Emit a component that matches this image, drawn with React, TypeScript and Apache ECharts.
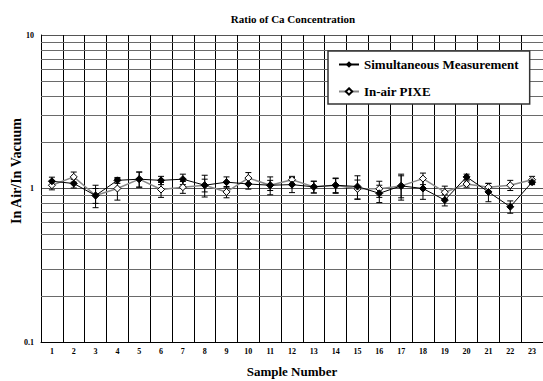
import React, { useEffect, useRef } from "react";
import * as echarts from "echarts";

const categories = ["1","2","3","4","5","6","7","8","9","10","11","12","13","14","15","16","17","18","19","20","21","22","23"];
const simultaneous = [1.115, 1.078, 0.9, 1.13, 1.15, 1.13, 1.15, 1.05, 1.1, 1.07, 1.05, 1.06, 1.025, 1.05, 1.03, 0.93, 1.04, 1.0, 0.84, 1.19, 0.95, 0.76, 1.1];
const inAirPixe = [1.05, 1.19, 0.9, 1.0, 1.15, 0.985, 1.02, 1.05, 0.95, 1.17, 1.05, 1.14, 1.025, 1.05, 0.995, 0.995, 1.04, 1.16, 0.946, 1.07, 1.02, 1.05, 1.14];
const simultaneousErr = [0.07, 0.07, 0.1, 0.05, 0.13, 0.07, 0.09, 0.1, 0.09, 0.08, 0.08, 0.12, 0.09, 0.12, 0.18, 0.12, 0.2, 0.15, 0.07, 0.05, 0.13, 0.07, 0.04];
const inAirPixeErr = [0.07, 0.09, 0.15, 0.16, 0.13, 0.11, 0.09, 0.17, 0.08, 0.1, 0.14, 0.06, 0.09, 0.11, 0.14, 0.12, 0.17, 0.1, 0.09, 0.05, 0.06, 0.08, 0.06];
const minorGridValues = [0.2, 0.3, 0.4, 0.5, 0.6, 0.7, 0.8, 0.9, 2, 3, 4, 5, 6, 7, 8, 9];

const FONT = "Liberation Serif";

function errData(vals: number[], errs: number[]) {
  return vals.map((v, i) => [i, v - errs[i], v + errs[i]]);
}

const renderErr = (params: any, api: any) => {
  const x = api.value(0);
  const lo = api.coord([x, api.value(1)]);
  const hi = api.coord([x, api.value(2)]);
  const w = 3;
  const style = { stroke: "#000", lineWidth: 1 };
  return {
    type: "group",
    children: [
      { type: "line", shape: { x1: lo[0], y1: lo[1], x2: hi[0], y2: hi[1] }, style },
      { type: "line", shape: { x1: lo[0] - w, y1: lo[1], x2: lo[0] + w, y2: lo[1] }, style },
      { type: "line", shape: { x1: hi[0] - w, y1: hi[1], x2: hi[0] + w, y2: hi[1] }, style },
    ],
  };
};

export default function App() {
  const ref = useRef<HTMLDivElement>(null);
  useEffect(() => {
    const chart = echarts.init(ref.current!, null, { renderer: "svg" });
    chart.setOption({
      animation: false,
      backgroundColor: "#fff",
      textStyle: { fontFamily: FONT },
      title: {
        text: "Ratio of Ca Concentration",
        left: 288,
        textAlign: "center",
        top: 8,
        textStyle: { fontFamily: FONT, fontSize: 11, fontWeight: "bold", color: "#000" },
      },
      graphic: [
        {
          type: "text",
          x: 16.5,
          y: 171,
          rotation: Math.PI / 2,
          style: {
            text: "In Air/In Vacuum",
            fontFamily: FONT,
            fontSize: 14,
            fontWeight: "bold",
            fill: "#000",
            textAlign: "center",
            textVerticalAlign: "middle",
          },
        },
      ],
      legend: {
        left: 328,
        top: 51,
        orient: "vertical",
        backgroundColor: "#fff",
        borderColor: "#333",
        borderWidth: 1.5,
        padding: [7, 11, 6, 10],
        itemGap: 14,
        itemWidth: 20,
        itemHeight: 8,
        textStyle: { fontFamily: FONT, fontSize: 13, fontWeight: "bold", color: "#000" },
        data: ["Simultaneous Measurement", "In-air PIXE"],
      },
      grid: { left: 41, right: 0, top: 35, bottom: 39, outerBoundsMode: "none" },
      xAxis: {
        type: "category",
        data: categories,
        boundaryGap: true,
        name: "Sample Number",
        nameLocation: "middle",
        nameGap: 23,
        nameTextStyle: { fontFamily: FONT, fontSize: 13, fontWeight: "bold", color: "#000" },
        axisLine: { lineStyle: { color: "#000", width: 1 } },
        axisTick: { show: false },
        axisLabel: { interval: 0, margin: 5, fontFamily: FONT, fontSize: 8, fontWeight: "bold", color: "#000" },
        splitLine: { show: true, interval: 0, lineStyle: { color: "#000", width: 1 } },
      },
      yAxis: {
        type: "log",
        logBase: 10,
        min: 0.1,
        max: 10,
        axisLine: { show: true, lineStyle: { color: "#000", width: 1 } },
        axisTick: { show: false },
        axisLabel: {
          margin: 7,
          fontFamily: FONT,
          fontSize: 8,
          fontWeight: "bold",
          color: "#000",
          formatter: (v: number) => (v < 1 ? "0.1" : String(Math.round(v))),
        },
        splitLine: { show: true, lineStyle: { color: "#555", width: 1 } },
      },
      series: [
        {
          name: "In-air PIXE",
          type: "line",
          data: inAirPixe,
          symbol: "diamond",
          symbolSize: 7,
          itemStyle: { color: "#fff", borderColor: "#000", borderWidth: 1 },
          lineStyle: { color: "#888", width: 1.5 },
          z: 3,
          markLine: {
            silent: true,
            symbol: "none",
            label: { show: false },
            lineStyle: { color: "#6a6a6a", width: 1, type: "solid" },
            data: minorGridValues.map((v) => ({ yAxis: v })),
            z: 1,
          },
        },
        {
          name: "Simultaneous Measurement",
          type: "line",
          data: simultaneous,
          symbol: "diamond",
          symbolSize: 7,
          itemStyle: { color: "#000", borderColor: "#000" },
          lineStyle: { color: "#000", width: 1 },
          z: 4,
        },
        {
          type: "custom",
          name: "errSim",
          data: errData(simultaneous, simultaneousErr),
          renderItem: renderErr,
          encode: { x: 0, y: [1, 2] },
          z: 2,
          silent: true,
        },
        {
          type: "custom",
          name: "errAir",
          data: errData(inAirPixe, inAirPixeErr),
          renderItem: renderErr,
          encode: { x: 0, y: [1, 2] },
          z: 2,
          silent: true,
        },
      ],
    });
    return () => chart.dispose();
  }, []);
  return (
    <div
      ref={ref}
      style={{ position: "absolute", left: 0, top: 0, width: 543, height: 381 }}
    />
  );
}
